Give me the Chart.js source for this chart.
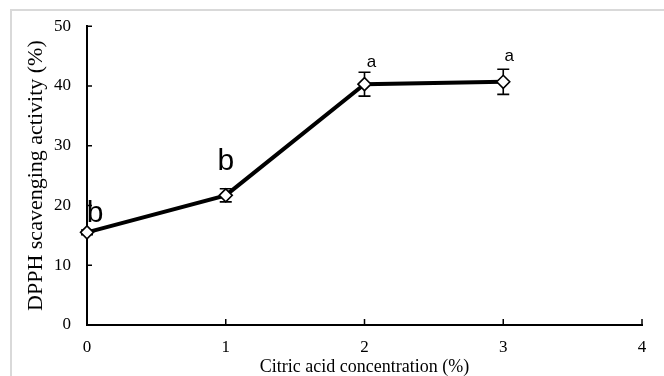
<!DOCTYPE html>
<html>
    <head>
        <meta charset="utf-8">
        <title>DPPH scavenging activity</title>
        <script src="https://cdn.jsdelivr.net/npm/chart.js@4.4.1/dist/chart.umd.min.js"></script>
        <style>
            body { margin: 0; background: #fff; }
        </style>
    </head>
    <body>
        <canvas id="chart" width="664" height="376"></canvas>
        <script>
            // citric acid concentration (%) and measured activity
            const concentration = [0, 1, 2, 3];
            const activity = [15.5, 21.7, 40.3, 40.7];
            const errors = [0.4, 1.1, 2.0, 2.1];
            // significance letters above each point
            const letters = ["b", "b", "a", "a"];
            const xTicks = [0, 1, 2, 3, 4];
            const yTicks = [0, 10, 20, 30, 40, 50];

            const serif = "'Liberation Serif', 'Times New Roman', serif";
            const sans = "'Liberation Sans', Arial, sans-serif";

            // light frame round the figure
            const framePlugin = {
                id: "frame",
                beforeDraw(chart) {
                    const ctx = chart.ctx;
                    ctx.save();
                    ctx.strokeStyle = "#d9d9d9";
                    ctx.lineWidth = 2;
                    ctx.strokeRect(11, 10, 700, 400);
                    ctx.restore();
                }
            };

            // tick marks drawn on the inner side of both axes
            const innerTicks = {
                id: "innerTicks",
                afterDraw(chart) {
                    const ctx = chart.ctx;
                    const x = chart.scales.x, y = chart.scales.y;
                    ctx.save();
                    ctx.strokeStyle = "#000";
                    ctx.lineWidth = 1.5;
                    ctx.beginPath();
                    xTicks.forEach(v => {
                        const px = x.getPixelForValue(v);
                        ctx.moveTo(px, y.bottom);
                        ctx.lineTo(px, y.bottom - 6);
                    });
                    yTicks.forEach(v => {
                        const py = y.getPixelForValue(v);
                        ctx.moveTo(x.left, py);
                        ctx.lineTo(x.left + 5, py);
                    });
                    ctx.stroke();
                    ctx.restore();
                }
            };

            // error bars behind the markers, letters above them
            const errorBars = {
                id: "errorBars",
                beforeDatasetsDraw(chart) {
                    const ctx = chart.ctx;
                    const x = chart.scales.x, y = chart.scales.y;
                    ctx.save();
                    ctx.strokeStyle = "#000";
                    ctx.lineWidth = 1.6;
                    concentration.forEach((c, i) => {
                        const px = x.getPixelForValue(c);
                        const top = y.getPixelForValue(activity[i] + errors[i]);
                        const bot = y.getPixelForValue(activity[i] - errors[i]);
                        ctx.beginPath();
                        ctx.moveTo(px, top); ctx.lineTo(px, bot);
                        ctx.moveTo(px - 6, top); ctx.lineTo(px + 6, top);
                        ctx.moveTo(px - 6, bot); ctx.lineTo(px + 6, bot);
                        ctx.stroke();
                    });
                    ctx.restore();
                },
                afterDatasetsDraw(chart, args, opts) {
                    const ctx = chart.ctx;
                    const x = chart.scales.x, y = chart.scales.y;
                    ctx.save();
                    ctx.fillStyle = "#000";
                    ctx.textAlign = "center";
                    ctx.textBaseline = "alphabetic";
                    letters.forEach((t, i) => {
                        const o = opts.offsets[i];
                        ctx.font = o.size + "px " + sans;
                        ctx.fillText(t, x.getPixelForValue(concentration[i]) + o.dx,
                                        y.getPixelForValue(activity[i]) + o.dy);
                    });
                    ctx.restore();
                }
            };

            new Chart(document.getElementById("chart"), {
                type: "scatter",
                data: {
                    datasets: [{
                        data: concentration.map((c, i) => ({ x: c, y: activity[i] })),
                        showLine: true,
                        clip: false,
                        borderColor: "#000",
                        borderWidth: 4,
                        pointStyle: "rectRot",
                        pointRadius: 6.5,
                        pointBackgroundColor: "#fff",
                        pointBorderColor: "#000",
                        pointBorderWidth: 1.6
                    }]
                },
                options: {
                    responsive: false,
                    animation: false,
                    layout: { padding: { top: 23, right: 22, left: 0, bottom: 0 } },
                    plugins: {
                        legend: { display: false },
                        tooltip: { enabled: false },
                        errorBars: {
                            // baseline offsets from each point, in pixels
                            offsets: [
                                { dx: 8, dy: -10, size: 30 },
                                { dx: 0, dy: -25, size: 30 },
                                { dx: 7, dy: -17, size: 17 },
                                { dx: 6, dy: -21, size: 17 }
                            ]
                        }
                    },
                    scales: {
                        x: {
                            type: "linear",
                            min: 0, max: 4,
                            afterFit: s => { s.height = 51; },
                            afterBuildTicks: s => { s.ticks = xTicks.map(v => ({ value: v })); },
                            grid: { drawOnChartArea: false, drawTicks: false },
                            border: { color: "#000", width: 2 },
                            ticks: { color: "#000", padding: 12, font: { family: serif, size: 17 } },
                            title: {
                                display: true,
                                text: "Citric acid concentration (%)",
                                color: "#000",
                                font: { family: serif, size: 18 },
                                padding: { top: 0, bottom: -2 }
                            }
                        },
                        y: {
                            min: 0, max: 50,
                            afterFit: s => { s.width = 87; },
                            afterBuildTicks: s => { s.ticks = yTicks.map(v => ({ value: v })); },
                            grid: { drawOnChartArea: false, drawTicks: false },
                            border: { color: "#000", width: 2 },
                            ticks: { color: "#000", padding: 16, font: { family: serif, size: 17 } },
                            title: {
                                display: true,
                                text: "DPPH scavenging activity (%)",
                                color: "#000",
                                font: { family: serif, size: 22 },
                                padding: { top: 23, bottom: 0 }
                            }
                        }
                    }
                },
                plugins: [framePlugin, innerTicks, errorBars]
            });
        </script>
    </body>
</html>
